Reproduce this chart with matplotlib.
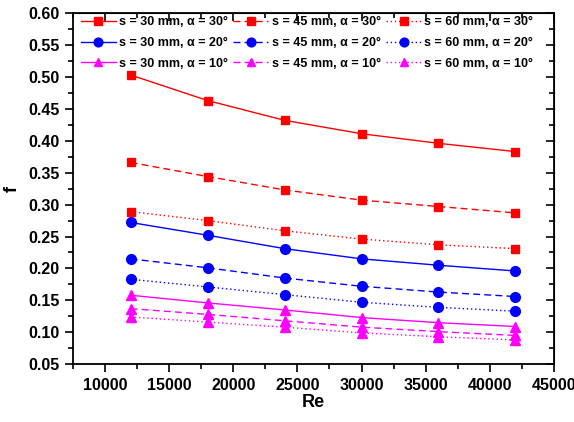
import matplotlib
matplotlib.use("Agg")
import matplotlib.pyplot as plt
from matplotlib.ticker import MultipleLocator, FormatStrFormatter

re_vals = [12000, 18000, 24000, 30000, 36000, 42000]

s30_a30 = [0.503, 0.463, 0.432, 0.411, 0.396, 0.383]
s45_a30 = [0.366, 0.344, 0.323, 0.307, 0.297, 0.287]
s60_a30 = [0.289, 0.275, 0.259, 0.246, 0.237, 0.231]
s30_a20 = [0.272, 0.252, 0.231, 0.215, 0.205, 0.196]
s45_a20 = [0.215, 0.201, 0.185, 0.172, 0.163, 0.156]
s60_a20 = [0.183, 0.171, 0.159, 0.147, 0.139, 0.133]
s30_a10 = [0.158, 0.146, 0.135, 0.123, 0.115, 0.109]
s45_a10 = [0.137, 0.128, 0.118, 0.108, 0.101, 0.095]
s60_a10 = [0.124, 0.116, 0.108, 0.099, 0.093, 0.088]

labels = [
    "s = 30 mm, α = 30°", "s = 45 mm, α = 30°", "s = 60 mm, α = 30°",
    "s = 30 mm, α = 20°", "s = 45 mm, α = 20°", "s = 60 mm, α = 20°",
    "s = 30 mm, α = 10°", "s = 45 mm, α = 10°", "s = 60 mm, α = 10°",
]
series = [s30_a30, s45_a30, s60_a30, s30_a20, s45_a20, s60_a20, s30_a10, s45_a10, s60_a10]

plt.rcParams['font.family'] = ['Liberation Sans', 'DejaVu Sans']
plt.rcParams['font.weight'] = 'bold'

fig = plt.figure(figsize=(5.74, 4.22), dpi=100)
ax = fig.add_axes([0.127, 0.137, 0.838, 0.832])

colors = ['#ff0000', '#0000ff', '#ff00ff']
markers = ['s', 'o', '^']
msizes = [6.2, 7.0, 7.0]
styles = ['-', (0, (5, 3)), (0, (1, 2))]

handles = []
for i, (ys, lab) in enumerate(zip(series, labels)):
    g = i // 3
    k = i % 3
    h, = ax.plot(re_vals, ys, linestyle=styles[k], color=colors[g], marker=markers[g],
                 markersize=msizes[g], linewidth=1.0, label=lab)
    handles.append(h)

ax.set_xlim(7500, 45000)
ax.set_ylim(0.05, 0.60)
ax.xaxis.set_major_locator(MultipleLocator(5000))
ax.xaxis.set_minor_locator(MultipleLocator(2500))
ax.yaxis.set_major_locator(MultipleLocator(0.05))
ax.yaxis.set_minor_locator(MultipleLocator(0.025))
ax.yaxis.set_major_formatter(FormatStrFormatter('%.2f'))

ax.tick_params(which='major', direction='out', length=6, width=1.2, labelsize=11.5)
ax.tick_params(which='minor', direction='out', length=3.5, width=1.2)
ax.tick_params(axis='x', which='major', pad=4)
for sp in ax.spines.values():
    sp.set_linewidth(1.3)

sx = ax.secondary_xaxis('top')
sx.xaxis.set_major_locator(MultipleLocator(5000))
sx.xaxis.set_minor_locator(MultipleLocator(2500))
sx.tick_params(which='major', direction='in', length=6, width=1.2, labeltop=False)
sx.tick_params(which='minor', direction='in', length=3.5, width=1.2)
sy = ax.secondary_yaxis('right')
sy.yaxis.set_major_locator(MultipleLocator(0.05))
sy.yaxis.set_minor_locator(MultipleLocator(0.025))
sy.tick_params(which='major', direction='in', length=6, width=1.2, labelright=False)
sy.tick_params(which='minor', direction='in', length=3.5, width=1.2)

ax.set_xlabel("Re", fontsize=13, fontweight='bold', labelpad=1)
ax.set_ylabel("f", fontsize=13, fontweight='bold')
ax.yaxis.set_label_coords(-0.108, 0.5)

# reorder for row-wise filling with ncol=3
order = [0, 3, 6, 1, 4, 7, 2, 5, 8]
ax.legend([handles[j] for j in order], [labels[j] for j in order], ncol=3,
          loc='upper left', bbox_to_anchor=(0.01, 1.0), frameon=False,
          handlelength=2.8, handletextpad=0.25, columnspacing=0.45,
          labelspacing=0.7, borderaxespad=0.0, borderpad=0.25, markerscale=0.9,
          prop={'weight': 'bold', 'size': 9})

fig.savefig("out.png", dpi=100)
